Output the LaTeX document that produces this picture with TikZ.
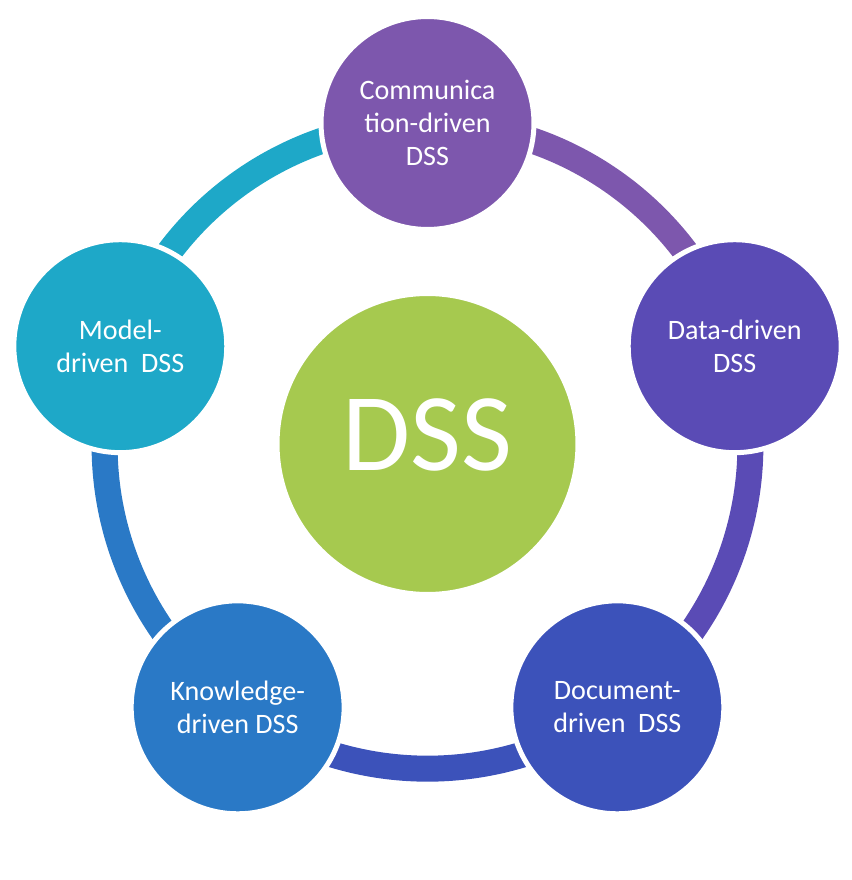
\documentclass[tikz,border=0pt]{standalone}
\usepackage{fontspec}
\setmainfont{Carlito}
\usetikzlibrary{backgrounds}
\definecolor{commcol}{HTML}{7D57AD}
\definecolor{datacol}{HTML}{5A4BB5}
\definecolor{doccol}{HTML}{3C52BA}
\definecolor{knowcol}{HTML}{2A79C6}
\definecolor{modelcol}{HTML}{1EA8C8}
\definecolor{dsscol}{HTML}{A6C94F}

\begin{document}
\begin{tikzpicture}[x=0.02cm, y=0.02cm,
  kind/.style={circle, draw=white, line width=0.1cm, minimum size=4.26cm, inner sep=0pt,
    align=center, text=white, font=\fontsize{16}{19}\selectfont},
  hub/.style={circle, draw=white, line width=0.1cm, fill=dsscol, minimum size=6.02cm, inner sep=0pt,
    text=white, font=\fontsize{63}{70}\selectfont, text depth=0.36cm},
  link/.style={line width=0.52cm, bend left=36, looseness=0.94}]
\useasboundingbox (-427.5,-434) rectangle (424.5,446);

\node[hub] (dss) at (0,2) {DSS};

\node[kind, fill=commcol] (comm) at (90:323) {Communica\\tion-driven\\DSS};
\node[kind, fill=datacol] (data) at (18:323) {Data-driven\\DSS};
\node[kind, fill=doccol] (doc) at (-54:323) {Document-\\driven\ \ DSS};
\node[kind, fill=knowcol] (know) at (-126:323) {Knowledge-\\driven DSS};
\node[kind, fill=modelcol] (model) at (162:323) {Model-\\driven\ \ DSS};

\begin{scope}[on background layer]
\draw[link, commcol] (comm.center) to (data.center);
\draw[link, datacol] (data.center) to (doc.center);
\draw[link, doccol] (doc.center) to (know.center);
\draw[link, knowcol] (know.center) to (model.center);
\draw[link, modelcol] (model.center) to (comm.center);
\end{scope}
\end{tikzpicture}
\end{document}
